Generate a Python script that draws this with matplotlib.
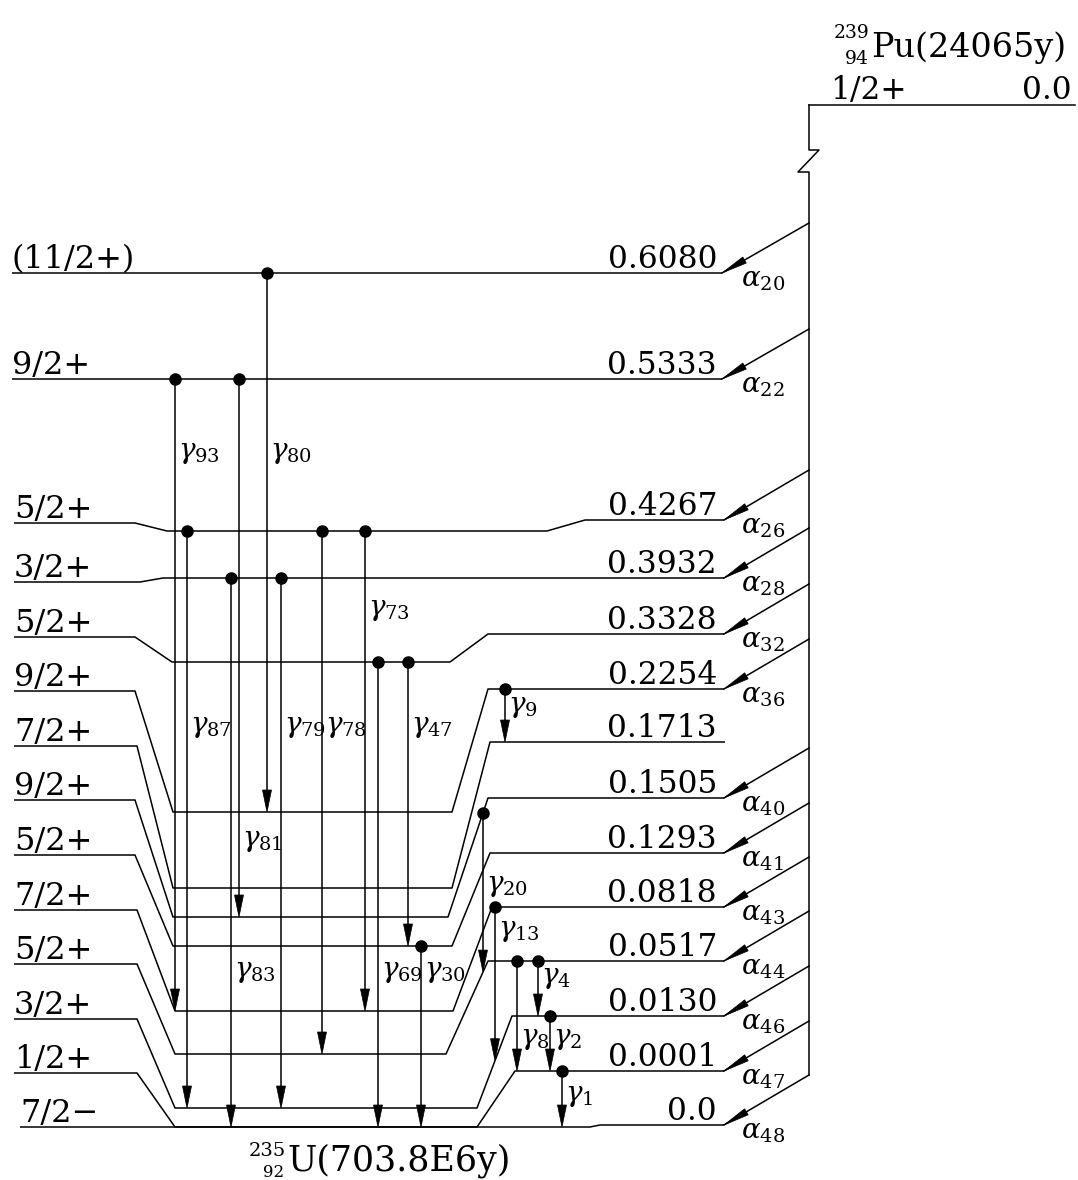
import numpy as np
import matplotlib
matplotlib.use("Agg")
import matplotlib.pyplot as plt
from matplotlib.patches import Polygon

plt.rcParams["mathtext.fontset"] = "dejavuserif"
SERIF = "DejaVu Serif"

# ---- 235U levels populated in the alpha decay of 239Pu (energies in MeV) ----
energies = [0.6080, 0.5333, 0.4267, 0.3932, 0.3328, 0.2254, 0.1713,
            0.1505, 0.1293, 0.0818, 0.0517, 0.0130, 0.0001, 0.0]
energy_labels = ["0.6080", "0.5333", "0.4267", "0.3932", "0.3328", "0.2254",
                 "0.1713", "0.1505", "0.1293", "0.0818", "0.0517", "0.0130",
                 "0.0001", "0.0"]
spins = ["(11/2+)", "9/2+", "5/2+", "3/2+", "5/2+", "9/2+", "7/2+",
         "9/2+", "5/2+", "7/2+", "5/2+", "3/2+", "1/2+", "7/2\u2212"]
alpha_ids = ["20", "22", "26", "28", "32", "36", None,
             "40", "41", "43", "44", "46", "47", "48"]

# gamma transitions: label, initial level, final level
gamma_ids = ["80", "93", "81", "87", "78", "73", "83", "79", "69",
             "47", "9", "20", "30", "13", "8", "4", "2", "1"]
gamma_from = [0.6080, 0.5333, 0.5333, 0.4267, 0.4267, 0.4267, 0.3932, 0.3932,
              0.3328, 0.3328, 0.2254, 0.1505, 0.1293, 0.0818, 0.0517, 0.0517,
              0.0130, 0.0001]
gamma_to = [0.2254, 0.0818, 0.1505, 0.0130, 0.0517, 0.0818, 0.0, 0.0130,
            0.0, 0.1293, 0.1713, 0.0517, 0.0, 0.0130, 0.0001, 0.0130,
            0.0001, 0.0]

parent_name = "Pu(24065y)"
parent_A, parent_Z = "239", "94"
parent_spin, parent_energy = "1/2+", "0.0"
daughter_name = "U(703.8E6y)"
daughter_A, daughter_Z = "235", "92"

# ---- drawing layout (canvas units = pixels, y downwards) ----
y_left = [273, 379, 523, 582, 637, 691, 746, 800, 855, 910, 964, 1019, 1073, 1127]
y_mid = [273, 379, 531, 578, 662, 812, 888, 917, 946, 1011, 1054, 1108, 1127, 1127]
y_right = [273, 379, 520, 578, 634, 689, 742, 798, 853, 907, 961, 1016, 1071, 1125]
x_start = [12, 12, 14, 14, 14, 14, 14, 14, 14, 14, 14, 14, 14, 20]
x_left_end = [136, 136, 135, 140, 135, 135, 137, 135, 135, 137, 137, 137, 137, 137]
x_mid_start = [172, 172, 167, 163, 172, 173, 173, 173, 173, 175, 175, 175, 175, 175]
x_mid_end = [450, 450, 547, 570, 450, 452, 452, 448, 452, 453, 446, 477, 477, 590]
x_right_start = [488, 488, 585, 583, 488, 488, 490, 488, 490, 492, 488, 512, 515, 600]
x_right_end = [722, 722, 724, 724, 724, 724, 725, 724, 724, 724, 724, 724, 724, 724]

gamma_x = [267, 175, 239, 187, 322, 365, 231, 281, 378, 408, 505, 483, 421,
           495, 517, 538, 550, 562]
gamma_label_y = [452, 452, 840, 726, 726, 609, 971, 726, 971, 726, 706, 885,
                 971, 930, 1038, 977, 1038, 1095]

parent_x = 809
parent_level_y = 105
parent_line_end = 1075
alpha_rise = 50

LW = 1.1
fig = plt.figure(figsize=(10.78, 11.80), dpi=100)
ax = fig.add_axes([0, 0, 1, 1])
ax.set_xlim(0, 1078)
ax.set_ylim(1180, 0)
ax.axis("off")


def level_path(i):
    xs = [x_start[i], x_left_end[i], x_mid_start[i], x_mid_end[i],
          x_right_start[i], x_right_end[i]]
    ys = [y_left[i], y_left[i], y_mid[i], y_mid[i], y_right[i], y_right[i]]
    return np.array(xs, float), np.array(ys, float)


def level_y_at(energy, x):
    i = energies.index(energy)
    xs, ys = level_path(i)
    return float(np.interp(x, xs, ys))


# daughter levels with spin and energy labels
for i, e in enumerate(energies):
    xs, ys = level_path(i)
    ax.plot(xs, ys, color="black", lw=LW, solid_capstyle="butt")
    ax.text(x_start[i], y_left[i] - 5, spins[i], fontsize=23,
            family=SERIF, ha="left", va="baseline")
    ax.text(717, y_right[i] - 5, energy_labels[i], fontsize=22.5,
            family=SERIF, ha="right", va="baseline")

# parent level and its vertical feeder line with a break mark
ax.plot([parent_x, 1075], [parent_level_y, parent_level_y], color="black", lw=LW)
ax.plot([parent_x, parent_x, parent_x + 10, parent_x - 11, parent_x, parent_x],
        [parent_level_y, 150, 150, 172, 172, parent_line_end],
        color="black", lw=LW)
ax.text(830, parent_level_y - 6, parent_spin, fontsize=22.5, family=SERIF,
        ha="left", va="baseline")
ax.text(1072, parent_level_y - 6, parent_energy, fontsize=22.5, family=SERIF,
        ha="right", va="baseline")
ax.text(871, 57, parent_name, fontsize=24, family=SERIF, ha="left", va="baseline")
ax.text(869, 38, parent_A, fontsize=13.5, family=SERIF, ha="right", va="baseline")
ax.text(869, 64, parent_Z, fontsize=13.5, family=SERIF, ha="right", va="baseline")

# daughter nucleus name
ax.text(287, 1171, daughter_name, fontsize=25, family=SERIF, ha="left", va="baseline")
ax.text(286, 1156, daughter_A, fontsize=14, family=SERIF, ha="right", va="baseline")
ax.text(284, 1177, daughter_Z, fontsize=12, family=SERIF, ha="right", va="baseline")

# alpha branches
for i, aid in enumerate(alpha_ids):
    if aid is None:
        continue
    x1, y1 = parent_x, y_right[i] - alpha_rise
    x2, y2 = x_right_end[i], y_right[i]
    ax.plot([x1, x2], [y1, y2], color="black", lw=LW)
    d = np.array([x2 - x1, y2 - y1], float)
    d /= np.hypot(*d)
    n = np.array([-d[1], d[0]])
    tip = np.array([x2, y2], float)
    base = tip - 26 * d
    ax.add_patch(Polygon([tip, base + 3.5 * n, base - 3.5 * n], closed=True,
                         fc="black", ec="black", lw=0.5))
    ax.text(741, y_right[i] + 6, r"$\alpha_{%s}$" % aid, fontsize=20,
            ha="left", va="center")

# gamma transitions
for gid, ef, et, gx, ly in zip(gamma_ids, gamma_from, gamma_to, gamma_x,
                               gamma_label_y):
    y0 = level_y_at(ef, gx)
    y1 = level_y_at(et, gx)
    ax.plot([gx, gx], [y0, y1 - 4], color="black", lw=LW)
    ax.add_patch(Polygon([(gx - 4.5, y1 - 22), (gx + 4.5, y1 - 22), (gx, y1)],
                         closed=True, fc="black", ec="black", lw=0.5))
    ax.plot([gx], [y0], marker="o", ms=8, color="black")
    ax.text(gx + 3, ly, r"$\gamma_{%s}$" % gid, fontsize=20, ha="left",
            va="center")

fig.savefig("out.png", dpi=100, facecolor="white")
